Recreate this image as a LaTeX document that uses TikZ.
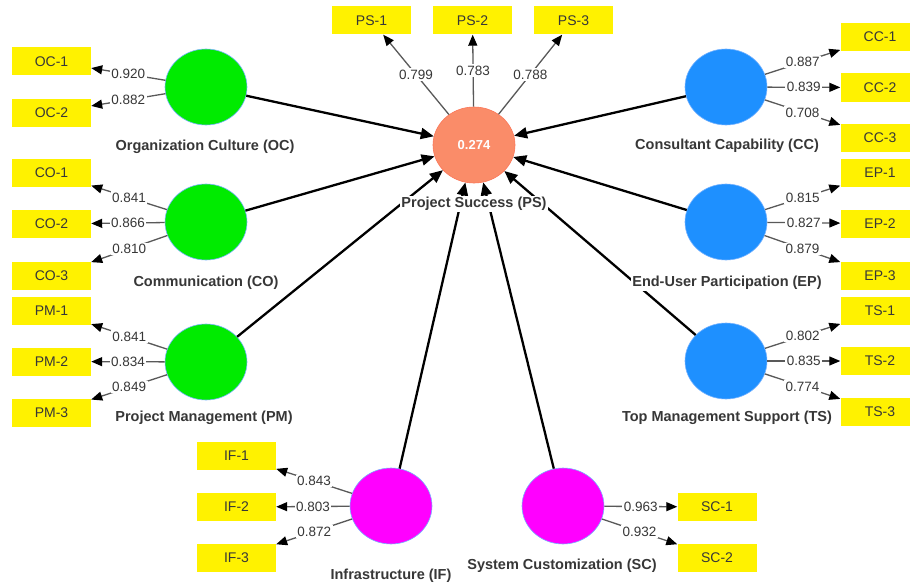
\documentclass[tikz,border=0pt]{standalone}
\usepackage{fontspec}
\setmainfont{Liberation Sans}
\usepackage{tikz}
\usetikzlibrary{arrows.meta, positioning, shapes.geometric}
\definecolor{lvgreen}{RGB}{0,235,0}
\definecolor{lvblue}{RGB}{30,144,255}
\definecolor{lvmagenta}{RGB}{255,0,255}
\definecolor{lvcoral}{RGB}{250,140,105}
\definecolor{lvedge}{RGB}{120,180,255}
\definecolor{txtgray}{RGB}{55,55,55}
\tikzstyle{latent} = [ellipse, draw=lvedge, line width=0.6pt,
  minimum width=82pt, minimum height=76pt, inner sep=0pt]
\tikzstyle{indic} = [rectangle, fill=yellow, minimum width=79pt,
  minimum height=28pt, inner sep=0pt, text=txtgray, font=\fontsize{14}{16}\selectfont]
\tikzstyle{lvlabel} = [fill=white, inner sep=1pt, text=txtgray,
  font=\fontsize{14.5}{16}\selectfont\bfseries]
\tikzstyle{loading} = [draw=black!65, line width=1.3pt,
  -{Triangle[length=11pt, width=9pt, color=black]}]
\tikzstyle{weight} = [fill=white, inner sep=1.5pt, text=txtgray,
  font=\fontsize{13.5}{15}\selectfont]
\tikzstyle{inner} = [black, line width=2.3pt, -{Triangle[length=13pt, width=11pt]}]

\begin{document}
\begin{tikzpicture}[x=1pt, y=-1pt]
    \clip (0,0) rectangle (910,586);
    \fill[white] (0,0) rectangle (910,586);
    % latent variables
    \node[latent, fill=lvcoral, draw=lvcoral!85!red] (ps) at (474,145)
      {\textcolor{white}{\fontsize{13}{15}\selectfont\bfseries 0.274}};
    \node[latent, fill=lvgreen] (oc) at (206,87) {};
    \node[latent, fill=lvgreen] (co) at (206,222) {};
    \node[latent, fill=lvgreen] (pm) at (206,362) {};
    \node[latent, fill=lvblue] (cc) at (726,87) {};
    \node[latent, fill=lvblue] (ep) at (726,222) {};
    \node[latent, fill=lvblue] (ts) at (726,361) {};
    \node[latent, fill=lvmagenta] (ifs) at (391,506) {};
    \node[latent, fill=lvmagenta] (sc) at (563,506) {};
    % indicators
    \node[indic] (oc1) at (51.5,61.5) {OC-1};
    \node[indic] (oc2) at (51.5,112.5) {OC-2};
    \node[indic] (co1) at (51.5,173) {CO-1};
    \node[indic] (co2) at (51.5,224) {CO-2};
    \node[indic] (co3) at (51.5,276) {CO-3};
    \node[indic] (pm1) at (51.5,311) {PM-1};
    \node[indic] (pm2) at (51.5,361.5) {PM-2};
    \node[indic] (pm3) at (51.5,412.5) {PM-3};
    \node[indic] (ps1) at (371.5,20.5) {PS-1};
    \node[indic] (ps2) at (472.5,20.5) {PS-2};
    \node[indic] (ps3) at (573.5,20.5) {PS-3};
    \node[indic] (cc1) at (880,37) {CC-1};
    \node[indic] (cc2) at (880,87.5) {CC-2};
    \node[indic] (cc3) at (880,138) {CC-3};
    \node[indic] (ep1) at (880,173) {EP-1};
    \node[indic] (ep2) at (880,223.5) {EP-2};
    \node[indic] (ep3) at (880,276) {EP-3};
    \node[indic] (ts1) at (880,311) {TS-1};
    \node[indic] (ts2) at (880,361) {TS-2};
    \node[indic] (ts3) at (880,412) {TS-3};
    \node[indic] (ifs1) at (236.5,456) {IF-1};
    \node[indic] (ifs2) at (236.5,507) {IF-2};
    \node[indic] (ifs3) at (236.5,557.5) {IF-3};
    \node[indic] (sc1) at (717,507) {SC-1};
    \node[indic] (sc2) at (717,557.5) {SC-2};
    % outer loadings
    \draw[loading] (oc) -- node[weight] {0.920} (oc1);
    \draw[loading] (oc) -- node[weight] {0.882} (oc2);
    \draw[loading] (co) -- node[weight] {0.841} (co1);
    \draw[loading] (co) -- node[weight] {0.866} (co2);
    \draw[loading] (co) -- node[weight] {0.810} (co3);
    \draw[loading] (pm) -- node[weight] {0.841} (pm1);
    \draw[loading] (pm) -- node[weight] {0.834} (pm2);
    \draw[loading] (pm) -- node[weight] {0.849} (pm3);
    \draw[loading] (ps) -- node[weight] {0.799} (ps1);
    \draw[loading] (ps) -- node[weight] {0.783} (ps2);
    \draw[loading] (ps) -- node[weight] {0.788} (ps3);
    \draw[loading] (cc) -- node[weight] {0.887} (cc1);
    \draw[loading] (cc) -- node[weight] {0.839} (cc2);
    \draw[loading] (cc) -- node[weight] {0.708} (cc3);
    \draw[loading] (ep) -- node[weight] {0.815} (ep1);
    \draw[loading] (ep) -- node[weight] {0.827} (ep2);
    \draw[loading] (ep) -- node[weight] {0.879} (ep3);
    \draw[loading] (ts) -- node[weight] {0.802} (ts1);
    \draw[loading] (ts) -- node[weight] {0.835} (ts2);
    \draw[loading] (ts) -- node[weight] {0.774} (ts3);
    \draw[loading] (ifs) -- node[weight] {0.843} (ifs1);
    \draw[loading] (ifs) -- node[weight] {0.803} (ifs2);
    \draw[loading] (ifs) -- node[weight] {0.872} (ifs3);
    \draw[loading] (sc) -- node[weight] {0.963} (sc1);
    \draw[loading] (sc) -- node[weight] {0.932} (sc2);
    % structural paths
    \draw[inner] (oc) -- (ps);
    \draw[inner] (co) -- (ps);
    \draw[inner] (pm) -- (ps);
    \draw[inner] (cc) -- (ps);
    \draw[inner] (ep) -- (ps);
    \draw[inner] (ts) -- (ps);
    \draw[inner] (ifs) -- (ps);
    \draw[inner] (sc) -- (ps);
    % construct names, on top of the paths
    \node[lvlabel] (ps-l) at (474,204) {Project Success (PS)};
    \node[lvlabel] (oc-l) at (205,147) {Organization Culture (OC)};
    \node[lvlabel] (co-l) at (206,283) {Communication (CO)};
    \node[lvlabel] (pm-l) at (204,418) {Project Management (PM)};
    \node[lvlabel] (cc-l) at (727,146) {Consultant Capability (CC)};
    \node[lvlabel] (ep-l) at (727,283) {End-User Participation (EP)};
    \node[lvlabel] (ts-l) at (727,418) {Top Management Support (TS)};
    \node[lvlabel] (ifs-l) at (391,576) {Infrastructure (IF)};
    \node[lvlabel] (sc-l) at (562,566) {System Customization (SC)};
\end{tikzpicture}
\end{document}
